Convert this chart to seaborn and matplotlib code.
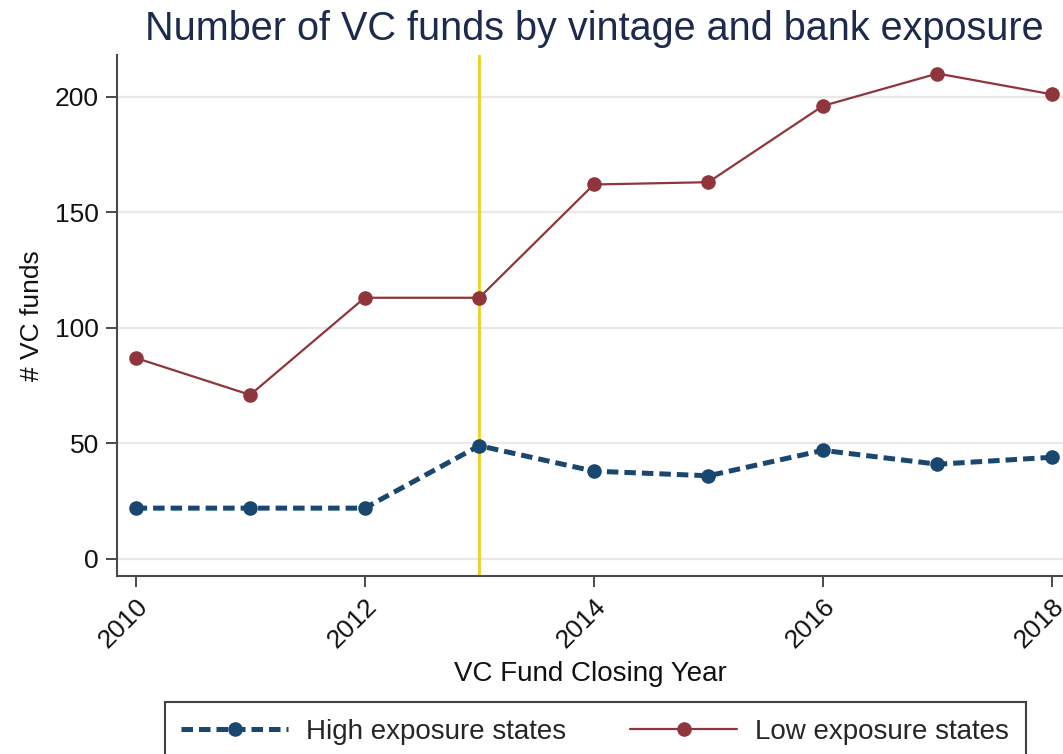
import matplotlib
matplotlib.use("Agg")
import matplotlib.pyplot as plt
import seaborn as sns
import pandas as pd

years = [2010, 2011, 2012, 2013, 2014, 2015, 2016, 2017, 2018]
high_exposure = [22, 22, 22, 49, 38, 36, 47, 41, 44]
low_exposure = [87, 71, 113, 113, 162, 163, 196, 210, 201]
series_names = ["High exposure states", "Low exposure states"]
x_ticks = [2010, 2012, 2014, 2016, 2018]
y_ticks = [0, 50, 100, 150, 200]
event_year = 2013

df = pd.DataFrame({
    "year": years * 2,
    "funds": high_exposure + low_exposure,
    "group": [series_names[0]] * len(years) + [series_names[1]] * len(years),
})

sns.set_theme(style="white")
plt.rcParams["font.family"] = ["Liberation Sans", "DejaVu Sans"]

NAVY = "#1a476f"
MAROON = "#90353b"
TITLE = "#1c2a4e"
SPINE = "#4a4a4a"
TEXT = "#111111"

fig = plt.figure(figsize=(10.63, 7.54), dpi=100)
ax = fig.add_axes([0.110, 0.2361, 0.890, 0.6909])

ax.set_xlim(2009.837, 2018.096)
ax.set_ylim(-7.35, 218.0)
ax.set_yticks(y_ticks)
ax.grid(axis="y", color="#e8e8e8", linewidth=1.6, zorder=0)
ax.set_axisbelow(True)

ax.axvline(event_year, color="#f2cf1d", linewidth=2.0, zorder=1)

sns.lineplot(data=df[df.group == series_names[0]], x="year", y="funds",
             ax=ax, color=NAVY, linewidth=3.6, linestyle=(0, (2.3, 1.2)),
             marker="o", markersize=10.5, markeredgewidth=0,
             label=series_names[0], zorder=3, legend=False)
sns.lineplot(data=df[df.group == series_names[1]], x="year", y="funds",
             ax=ax, color=MAROON, linewidth=1.6,
             marker="o", markersize=10.5, markeredgewidth=0,
             label=series_names[1], zorder=3, legend=False)

ax.set_xticks(x_ticks)
ax.set_xticklabels([str(t) for t in x_ticks], rotation=45, ha="right",
                   va="top", rotation_mode="anchor")
ax.tick_params(axis="both", which="major", labelsize=19, length=8,
               width=1.4, color=SPINE, direction="out", pad=5,
               labelcolor=TEXT, bottom=True, left=True)

for side in ["top", "right"]:
    ax.spines[side].set_visible(False)
for side in ["left", "bottom"]:
    ax.spines[side].set_color(SPINE)
    ax.spines[side].set_linewidth(1.5)

ax.set_xlabel("VC Fund Closing Year", fontsize=20, color=TEXT, labelpad=6)
ax.set_ylabel("# VC funds", fontsize=19, color=TEXT, labelpad=8)

fig.text(0.559, 0.962, "Number of VC funds by vintage and bank exposure",
         fontsize=28.5, color=TITLE, ha="center", va="center")

handles, labels = ax.get_legend_handles_labels()
leg = fig.legend(handles, labels, loc="upper left",
                 bbox_to_anchor=(0.155, 0.069), ncol=2, fontsize=20,
                 frameon=True, fancybox=False, edgecolor="#111111",
                 handlelength=3.85, handletextpad=0.65, columnspacing=2.3,
                 borderpad=0.6, borderaxespad=0)
leg.get_frame().set_linewidth(1.5)

fig.savefig("out.png", dpi=100, facecolor="white")
